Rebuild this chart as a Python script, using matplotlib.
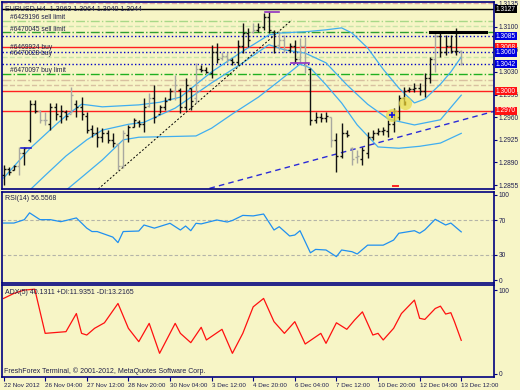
import numpy as np
import matplotlib
matplotlib.use("Agg")
import matplotlib.pyplot as plt
import matplotlib.transforms as mtransforms

plt.rcParams['font.family'] = ['Liberation Sans', 'DejaVu Sans']

# ---- price bars (EURUSD H4), bar index 0..88
high = [1.2886, 1.2883, 1.2886, 1.2914, 1.2914, 1.2986, 1.2986, 1.2971, 1.2968, 1.2982,
        1.2982, 1.2979, 1.2971, 1.3007, 1.2986, 1.2991, 1.2968, 1.2948, 1.2945, 1.2943,
        1.2940, 1.2935, 1.2920, 1.2940, 1.2948, 1.2959, 1.2956, 1.2990, 1.2997, 1.3010,
        1.2979, 1.2991, 1.3005, 1.3025, 1.3005, 1.3021, 1.3005, 1.3044, 1.3041, 1.3038,
        1.3072, 1.3075, 1.3061, 1.3061, 1.3051, 1.3079, 1.3106, 1.3098, 1.3106, 1.3106,
        1.3121, 1.3123, 1.3095, 1.3092, 1.3087, 1.3075, 1.3079, 1.3082, 1.3084, 1.3036,
        1.2968, 1.2966, 1.2968, 1.2960, 1.2935, 1.2951, 1.2940, 1.2914, 1.2909, 1.2914,
        1.2937, 1.2940, 1.2943, 1.2945, 1.2956, 1.2974, 1.2994, 1.3007, 1.3007, 1.3013,
        1.3013, 1.3028, 1.3053, 1.3092, 1.3092, 1.3087, 1.3087, 1.3098, 1.3064]
low = [1.2855, 1.2870, 1.2878, 1.2870, 1.2886, 1.2922, 1.2966, 1.2951, 1.2948, 1.2940,
       1.2956, 1.2951, 1.2956, 1.2966, 1.2960, 1.2956, 1.2935, 1.2929, 1.2914, 1.2922,
       1.2920, 1.2914, 1.2878, 1.2881, 1.2922, 1.2945, 1.2945, 1.2937, 1.2976, 1.2951,
       1.2966, 1.2971, 1.2986, 1.2986, 1.2966, 1.2971, 1.2971, 1.2982, 1.3030, 1.3028,
       1.3021, 1.3044, 1.3048, 1.3044, 1.3041, 1.3041, 1.3059, 1.3068, 1.3090, 1.3092,
       1.3095, 1.3090, 1.3059, 1.3064, 1.3061, 1.3061, 1.3044, 1.3045, 1.3028, 1.2948,
       1.2951, 1.2952, 1.2952, 1.2914, 1.2875, 1.2897, 1.2929, 1.2886, 1.2889, 1.2886,
       1.2897, 1.2925, 1.2932, 1.2932, 1.2929, 1.2937, 1.2956, 1.2979, 1.2999, 1.2999,
       1.2994, 1.2991, 1.3013, 1.3030, 1.3053, 1.3056, 1.3059, 1.3056, 1.3040]
open_ = [1.2870, 1.2880, 1.2878, 1.2885, 1.2905, 1.2925, 1.2980, 1.2970, 1.2955, 1.2950,
         1.2975, 1.2962, 1.2968, 1.2965, 1.2980, 1.2975, 1.2962, 1.2942, 1.2935, 1.2930,
         1.2935, 1.2925, 1.2918, 1.2885, 1.2932, 1.2945, 1.2952, 1.2950, 1.2978, 1.2990,
         1.2965, 1.2975, 1.2988, 1.3000, 1.3002, 1.2975, 1.3005, 1.2990, 1.3035, 1.3033,
         1.3028, 1.3060, 1.3052, 1.3055, 1.3048, 1.3045, 1.3070, 1.3090, 1.3092, 1.3095,
         1.3100, 1.3115, 1.3092, 1.3072, 1.3080, 1.3064, 1.3070, 1.3050, 1.3070, 1.3035,
         1.2955, 1.2960, 1.2958, 1.2960, 1.2925, 1.2900, 1.2935, 1.2912, 1.2898, 1.2895,
         1.2905, 1.2930, 1.2935, 1.2938, 1.2938, 1.2950, 1.2960, 1.2990, 1.3002, 1.3004,
         1.3005, 1.3000, 1.3020, 1.3050, 1.3085, 1.3060, 1.3070, 1.3062, 1.3063]
close = [1.2880, 1.2876, 1.2884, 1.2905, 1.2912, 1.2980, 1.2970, 1.2955, 1.2955, 1.2975,
         1.2965, 1.2970, 1.2962, 1.2995, 1.2975, 1.2965, 1.2940, 1.2935, 1.2930, 1.2935,
         1.2925, 1.2920, 1.2885, 1.2935, 1.2945, 1.2955, 1.2950, 1.2975, 1.2990, 1.2960,
         1.2975, 1.2985, 1.3000, 1.3010, 1.2975, 1.3010, 1.2985, 1.3035, 1.3033, 1.3030,
         1.3060, 1.3050, 1.3055, 1.3050, 1.3045, 1.3070, 1.3090, 1.3080, 1.3095, 1.3100,
         1.3115, 1.3095, 1.3070, 1.3080, 1.3065, 1.3070, 1.3050, 1.3070, 1.3040, 1.2955,
         1.2960, 1.2958, 1.2962, 1.2925, 1.2900, 1.2935, 1.2932, 1.2895, 1.2900, 1.2910,
         1.2930, 1.2935, 1.2938, 1.2940, 1.2950, 1.2970, 1.2990, 1.3000, 1.3004, 1.3005,
         1.3000, 1.3020, 1.3050, 1.3085, 1.3060, 1.3070, 1.3062, 1.3063, 1.3044]
gray_bars = [3, 7, 8, 13, 22, 23, 28, 33, 37, 42, 43, 48, 53, 54, 57, 58, 63, 67, 68, 83, 88]

# ---- Bollinger bands (read at sample bars)
bb_up_idx = [0, 5, 10, 12, 15, 19, 26, 30, 34, 40, 46, 51, 53, 58, 62, 65, 67, 70, 73, 76, 79, 81, 84, 86, 88]
bb_up_val = [1.2866, 1.2911, 1.2948, 1.2962, 1.2980, 1.2976, 1.2979, 1.2983, 1.2991, 1.3030,
             1.3062, 1.3087, 1.3090, 1.3092, 1.3095, 1.3098, 1.3090, 1.3067, 1.3034, 1.3005,
             1.2982, 1.2988, 1.3011, 1.3030, 1.3053]
bb_mid_idx = [5, 8, 12, 16, 19, 24, 27, 33, 40, 46, 51, 54, 58, 62, 66, 70, 74, 79, 84, 88]
bb_mid_val = [1.2847, 1.2870, 1.2900, 1.2925, 1.2940, 1.2949, 1.2952, 1.2974, 1.3013, 1.3044,
              1.3072, 1.3064, 1.3059, 1.3044, 1.3010, 1.2980, 1.2957, 1.2948, 1.2956, 1.2994]
bb_low_idx = [12, 15, 19, 23, 26, 37, 40, 44, 49, 53, 57, 59, 62, 65, 68, 72, 76, 80, 84, 88]
bb_low_val = [1.2847, 1.2867, 1.2894, 1.2925, 1.2929, 1.2931, 1.2943, 1.2965, 1.2991, 1.3016,
              1.3042, 1.3036, 1.3010, 1.2982, 1.2948, 1.2914, 1.2912, 1.2915, 1.2920, 1.2935]

# ---- horizontal order / level lines
level_prices = [1.3136, 1.3127, 1.3108, 1.3101, 1.3091, 1.3085, 1.3068, 1.3060, 1.3053,
                1.3042, 1.3027, 1.3017, 1.3010, 1.3000, 1.2970]
level_colors = ['#e0a8a0', 'black', '#a8d888', '#c8e4a8', '#30a030', '#0000c8', '#ff2020',
                '#0000c8', '#c8e4a8', '#0000c8', '#20b020', '#d8c0a0', '#d8c0a0', '#ff2020', '#ff2020']
level_styles = ['--', '-', '-.', '--', '-.', ':', '-', ':', '--', ':', '-.', '-.', '--', '-', '-']
order_labels = ['#6429196 sell limit', '#6470045 sell limit', '#6469924 buy', '#6470028 buy',
                '#6470097 buy limit']
order_label_prices = [1.3114, 1.3096, 1.3068, 1.3059, 1.3032]

price_ticks = [1.3135, 1.3100, 1.3065, 1.3030, 1.2995, 1.2960, 1.2925, 1.2890, 1.2855]
tag_prices = [1.3127, 1.3085, 1.3068, 1.3060, 1.3042, 1.3000, 1.2970]
tag_colors = ['black', '#0000e0', '#ff1010', '#0000e0', '#0000e0', '#ff1010', '#ff1010']

# ---- RSI(14)
rsi_idx = [0, 2, 4, 5, 7, 9, 11, 12, 14, 16, 17, 18, 21, 22, 23, 26, 27, 29, 32, 34, 35, 36,
           37, 38, 41, 43, 44, 46, 48, 50, 52, 53, 55, 56, 57, 59, 60, 62, 64, 65, 67, 68,
           70, 73, 75, 76, 79, 80, 81, 83, 85, 86, 88]
rsi_val = [67, 67, 71, 79, 71, 71, 68.6, 70, 73, 61, 57, 57, 50.5, 44, 57, 57.6, 64.7, 61,
           66.7, 58.8, 63.5, 58, 66.7, 66, 70.6, 68.2, 70, 76, 75.4, 77.6, 58.8, 62.7, 51.8,
           52.9, 58, 32, 36, 35.3, 27.5, 35.3, 33.3, 30.6, 41, 41, 47, 55, 58, 55, 59, 71.4,
           64.7, 67, 56.6]

# ---- ADX(5)
adx_idx = [0, 2, 4, 6, 8, 12, 14, 15, 16, 17.5, 19.4, 22, 24, 26, 28, 30, 33, 34, 36, 38,
           39, 42, 44, 46, 48, 50, 52, 54, 56, 58, 61, 62, 64, 66, 67.5, 69, 71, 72, 73, 75,
           76.5, 79, 80, 81, 83, 84, 85, 86, 86.7, 88]
adx_val = [90, 96, 100, 101, 48.4, 50.4, 72, 48.4, 46.4, 54.4, 61, 84, 54.4, 38.5, 60.3, 24.6,
           60.3, 48.4, 37.3, 55.6, 40.5, 53.2, 24.6, 48.4, 80, 90, 62.3, 48.4, 62.3, 35.7, 48.4,
           36.5, 61, 53.2, 64.3, 74, 46.4, 48.4, 40.5, 54.4, 72, 88, 66.3, 65, 78, 80.8, 71.4,
           73, 62.3, 40.1]

date_idx = [0, 8, 16, 24, 32, 40, 48, 56, 64, 72, 80, 88]
date_labels = ['22 Nov 2012', '26 Nov 04:00', '27 Nov 12:00', '28 Nov 20:00', '30 Nov 04:00',
               '3 Dec 12:00', '4 Dec 20:00', '6 Dec 04:00', '7 Dec 12:00', '10 Dec 20:00',
               '12 Dec 04:00', '13 Dec 12:00']

bg = '#f7f5c6'
navy = '#000080'
W, H = 520, 390
fig = plt.figure(figsize=(5.2, 3.9), dpi=100, facecolor=bg)


def panel(top, bottom):
    a = fig.add_axes([2 / W, (H - bottom) / H, 492 / W, (bottom - top) / H], facecolor=bg)
    for s in a.spines.values():
        s.set_color(navy)
        s.set_linewidth(1.2)
    a.yaxis.tick_right()
    a.tick_params(axis='y', colors=navy, labelsize=4.8, length=2, pad=1.5, labelcolor='#202050')
    a.tick_params(axis='x', bottom=False, labelbottom=False)
    a.set_xlim(-0.3, 94.3)
    return a


ax = panel(2, 189)
ax_rsi = panel(192, 283)
ax_adx = panel(285, 377)

# ---- main price panel
ax.set_ylim(1.2849, 1.3138)
for p, c, ls in zip(level_prices, level_colors, level_styles):
    ax.axhline(p, color=c, ls=ls, lw=1.0, zorder=1)
for t, p in zip(order_labels, order_label_prices):
    ax.text(1.2, p, t, fontsize=4.8, color='#202048', va='center', ha='left', zorder=5)

ax.plot(bb_up_idx, bb_up_val, color='#40aef0', lw=0.9, zorder=2)
ax.plot(bb_mid_idx, bb_mid_val, color='#40aef0', lw=0.9, zorder=2)
ax.plot(bb_low_idx, bb_low_val, color='#40aef0', lw=0.9, zorder=2)

# trend lines
ax.plot([18.2, 55.4], [1.2849, 1.3110], color='black', ls=(0, (2, 2)), lw=0.7, zorder=2)
ax.plot([39.6, 94.3], [1.2850, 1.2969], color='#2a2ad8', ls=(0, (4, 3)), lw=1.0, zorder=2)

# bars
idx = np.arange(len(high))
cols = ['#a8a8a0' if i in gray_bars else '#101010' for i in idx]
ax.vlines(idx, low, high, colors=cols, lw=1.0, zorder=3)
ax.hlines(open_, idx - 0.38, idx, colors=cols, lw=1.0, zorder=3)
ax.hlines(close, idx, idx + 0.38, colors=cols, lw=1.0, zorder=3)

# small markers drawn on chart
ax.plot([3.3, 5.2], [1.2912, 1.2912], color='#2020d0', lw=1.2, zorder=4)
ax.plot([50.3, 53.0], [1.3122, 1.3122], color='#9030c0', lw=1.2, zorder=4)
ax.plot([55.3, 58.8], [1.3044, 1.3044], color='#9030c0', lw=1.2, zorder=4)
ax.plot([82.0, 92.8], [1.3092, 1.3092], color='black', lw=2.2, zorder=4)
ax.plot([74.8, 75.8], [1.2853, 1.2853], color='#ff2020', lw=1.4, zorder=4)
ax.scatter([74.6, 77.1], [1.2963, 1.2982], s=90, color='#e8dc50', alpha=0.75, zorder=5, lw=0)
ax.scatter([74.6], [1.2963], s=18, marker='+', color='#1010e0', lw=1.2, zorder=6)
ax.scatter([77.1], [1.2982], s=10, marker='|', color='#b8a020', lw=1.0, zorder=6)

ax.set_yticks(price_ticks)
ax.set_yticklabels([f'{t:.4f}' for t in price_ticks])
ytr = mtransforms.blended_transform_factory(ax.transAxes, ax.transData)
for p, c in zip(tag_prices, tag_colors):
    ax.text(1.004, p, f'{p:.4f}', transform=ytr, fontsize=4.8, color='white', va='center',
            ha='left', clip_on=False, zorder=10,
            bbox=dict(boxstyle='square,pad=0.1', fc=c, ec='none'))
ax.text(0.006, 0.985, 'EURUSD,H4  1.3063 1.3064 1.3040 1.3044', transform=ax.transAxes,
        fontsize=5, color='#202048', va='top', ha='left', zorder=10)

# ---- RSI panel
ax_rsi.set_ylim(-3.5, 103.5)
for lv in (70, 30):
    ax_rsi.axhline(lv, color='#b4b4a8', ls=(0, (3, 2)), lw=0.8)
ax_rsi.plot(rsi_idx, rsi_val, color='#2090f0', lw=0.9)
ax_rsi.set_yticks([100, 70, 30, 0])
ax_rsi.text(0.006, 0.97, 'RSI(14) 56.5568', transform=ax_rsi.transAxes, fontsize=5,
            color='#202048', va='top', ha='left')

# ---- ADX panel
ax_adx.set_ylim(-3.6, 106)
ax_adx.plot(adx_idx, adx_val, color='#ff1010', lw=0.9)
ax_adx.set_yticks([100, 0])
ax_adx.text(0.006, 0.96, 'ADX(5) 40.1311 +DI:11.9351 -DI:13.2165', transform=ax_adx.transAxes,
            fontsize=5, color='#202048', va='top', ha='left')
ax_adx.text(0.004, 0.02, 'FreshForex Terminal, \u00a9 2001-2012, MetaQuotes Software Corp.',
            transform=ax_adx.transAxes, fontsize=5, color='#202048', va='bottom', ha='left')
ax_adx.tick_params(axis='x', bottom=True, labelbottom=True, colors=navy, length=3,
                   labelsize=4.5, pad=1.5, direction='out')
ax_adx.set_xticks(date_idx)
ax_adx.set_xticklabels(date_labels, ha='left', color='#202050')

fig.savefig('out.png', dpi=100, facecolor=bg)
